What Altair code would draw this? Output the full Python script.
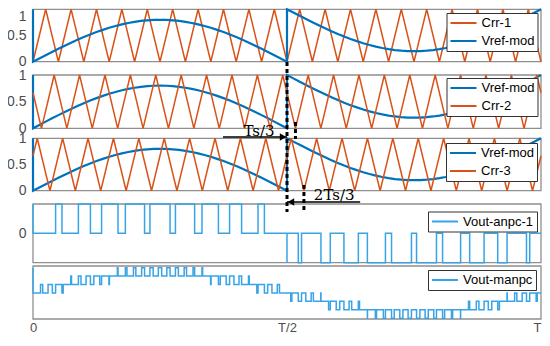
import numpy as np
import pandas as pd
import altair as alt

# ---------------- data (time in units of T) ----------------
CRR_UNIT = 120  # carrier vertex times are given in T/120

CRR1_T = [0, 3, 6, 9, 12, 15, 18, 21, 24, 27, 30, 33, 36, 39, 42, 45, 48, 51, 54, 57, 60,
          63, 66, 69, 72, 75, 78, 81, 84, 87, 90, 93, 96, 99, 102, 105, 108, 111, 114, 117, 120]
CRR1_V = [0, 1, 0, 1, 0, 1, 0, 1, 0, 1, 0, 1, 0, 1, 0, 1, 0, 1, 0, 1, 0,
          1, 0, 1, 0, 1, 0, 1, 0, 1, 0, 1, 0, 1, 0, 1, 0, 1, 0, 1, 0]

CRR2_T = [0, 2, 5, 8, 11, 14, 17, 20, 23, 26, 29, 32, 35, 38, 41, 44, 47, 50, 53, 56, 59,
          62, 65, 68, 71, 74, 77, 80, 83, 86, 89, 92, 95, 98, 101, 104, 107, 110, 113, 116, 119, 120]
CRR2_V = [0.667, 0, 1, 0, 1, 0, 1, 0, 1, 0, 1, 0, 1, 0, 1, 0, 1, 0, 1, 0, 1,
          0, 1, 0, 1, 0, 1, 0, 1, 0, 1, 0, 1, 0, 1, 0, 1, 0, 1, 0, 1, 0.667]

CRR3_T = [0, 1, 4, 7, 10, 13, 16, 19, 22, 25, 28, 31, 34, 37, 40, 43, 46, 49, 52, 55, 58,
          61, 64, 67, 70, 73, 76, 79, 82, 85, 88, 91, 94, 97, 100, 103, 106, 109, 112, 115, 118, 120]
CRR3_V = [0.667, 1, 0, 1, 0, 1, 0, 1, 0, 1, 0, 1, 0, 1, 0, 1, 0, 1, 0, 1, 0,
          1, 0, 1, 0, 1, 0, 1, 0, 1, 0, 1, 0, 1, 0, 1, 0, 1, 0, 1, 0, 0.667]

# reference (Vref-mod) sampled every T/80
VREF_H1 = [0.000, 0.063, 0.125, 0.187, 0.247, 0.306, 0.363, 0.418, 0.470, 0.520, 0.566,
           0.608, 0.647, 0.682, 0.713, 0.739, 0.761, 0.778, 0.790, 0.798, 0.800,
           0.798, 0.790, 0.778, 0.761, 0.739, 0.713, 0.682, 0.647, 0.608, 0.566,
           0.520, 0.470, 0.418, 0.363, 0.306, 0.247, 0.187, 0.125, 0.063, 0.000]
VREF_H2 = [1.000, 0.937, 0.875, 0.813, 0.753, 0.694, 0.637, 0.582, 0.530, 0.480, 0.434,
           0.392, 0.353, 0.318, 0.287, 0.261, 0.239, 0.222, 0.210, 0.202, 0.200,
           0.202, 0.210, 0.222, 0.239, 0.261, 0.287, 0.318, 0.353, 0.392, 0.434,
           0.480, 0.530, 0.582, 0.637, 0.694, 0.753, 0.813, 0.875, 0.937, 1.000]
VREF_T1 = np.linspace(0.0, 0.5, len(VREF_H1))
VREF_T2 = np.linspace(0.5, 1.0, len(VREF_H2))

X_TICKS = [0, 0.5, 1]
X_LABELS = ["0", "T/2", "T"]

ORANGE = "#D95319"
BLUE = "#0072BD"
LIGHT = "#38A4E8"
BOX = "#8f8f8f"
LABEL = "#4d4d4d"

# ---------------- PWM outputs: compare the reference with each carrier ----------------
FINE = np.linspace(0.0, 1.0, 48001)
first = FINE < 0.5
vref_fine = np.where(first, np.interp(FINE, VREF_T1, VREF_H1), np.interp(FINE, VREF_T2, VREF_H2))


def pwm(ct, cv):
    c = np.interp(FINE, np.asarray(ct, dtype=float) / CRR_UNIT, cv)
    return (vref_fine > c).astype(int) - (~first).astype(int)


out1 = pwm(CRR1_T, CRR1_V)
out2 = pwm(CRR2_T, CRR2_V)
out3 = pwm(CRR3_T, CRR3_V)


def steps(t, v):
    pts = [(float(t[0]), int(v[0]))]
    for i in np.nonzero(np.diff(v))[0] + 1:
        te = float((t[i - 1] + t[i]) / 2)
        pts.append((te, int(v[i - 1])))
        pts.append((te, int(v[i])))
    pts.append((float(t[-1]), int(v[-1])))
    return pts


a1 = steps(FINE[first], out1[first])
a2 = steps(FINE[~first], out1[~first])
anpc_pts = [(0.0, 1)] + a1 + [(0.5, a1[-1][1]), (0.5, -1), (0.5, a2[0][1])] + a2
manpc_pts = [(0.0, 3)] + steps(FINE, out1 + out2 + out3)


def frame(pts, name):
    df = pd.DataFrame(pts, columns=["t", "v"])
    df["i"] = range(len(df))
    df["series"] = name
    return df


vref_df = frame([(0.0, 1.0)] + list(zip(VREF_T1, VREF_H1)) + list(zip(VREF_T2, VREF_H2)), "Vref-mod")
crr_dfs = [frame(list(zip(np.asarray(T, dtype=float) / CRR_UNIT, V)), n)
           for T, V, n in [(CRR1_T, CRR1_V, "Crr-1"), (CRR2_T, CRR2_V, "Crr-2"), (CRR3_T, CRR3_V, "Crr-3")]]
anpc_df = frame(anpc_pts, "Vout-anpc-1")
manpc_df = frame(manpc_pts, "Vout-manpc")

# ---------------- encodings ----------------
XSCALE = alt.Scale(domain=[0, 1], nice=False, zero=False)
XAXIS = alt.Axis(values=X_TICKS,
                 labelExpr="datum.value == 0 ? '%s' : (datum.value == 1 ? '%s' : '%s')" % (X_LABELS[0], X_LABELS[2], X_LABELS[1]),
                 labelAlign=alt.ExprRef(expr="datum.value == 1 ? 'right' : 'center'"),
                 title=None, domain=False, ticks=False, grid=False, labelPadding=2,
                 labelFontSize=13, labelFont="Liberation Sans", labelColor=LABEL, labelFlush=False)


def X(f="t"):
    return alt.X(f"{f}:Q", scale=XSCALE, axis=XAXIS)


def yaxis(vals, top_flush=False):
    kw = {}
    if top_flush:
        kw["labelBaseline"] = alt.ExprRef(expr="datum.value == 1 ? 'top' : 'middle'")
    return alt.Axis(values=vals, format="~g", orient="left", title=None, domain=False, ticks=False,
                    grid=False, labelPadding=7, labelFontSize=14, labelFont="Liberation Sans",
                    labelColor=LABEL, **kw)


def legend(lx, ly):
    return alt.Legend(orient="none", legendX=lx, legendY=ly, title=None, symbolType="stroke",
                      symbolSize=676, symbolStrokeWidth=2, clipHeight=14, rowPadding=4, padding=3,
                      labelFont="Liberation Sans", labelFontSize=13, labelColor="black",
                      strokeColor="#333333", fillColor="white", labelOffset=4, symbolOffset=0)


def panel(lines, ydom, yrng, yax, cdom, crng, lx, ly):
    ysc = alt.Scale(domain=ydom, range=yrng, nice=False, zero=False)
    box_df = pd.DataFrame({"t0": [0.0], "t1": [1.0], "v0": [ydom[0]], "v1": [ydom[1]]})
    box = alt.Chart(box_df).mark_rect(fillOpacity=0, stroke=BOX, strokeWidth=1.3).encode(
        x=X("t0"), x2="t1", y=alt.Y("v0:Q", scale=ysc, axis=yax), y2="v1")
    layers = [box]
    for df, w in lines:
        layers.append(alt.Chart(df).mark_line(strokeWidth=w).encode(
            x=X("t"),
            y=alt.Y("v:Q", scale=ysc, axis=yax),
            color=alt.Color("series:N", scale=alt.Scale(domain=cdom, range=crng), legend=legend(lx, ly)),
            order="i:Q"))
    return alt.layer(*layers)


p1 = panel([(crr_dfs[0], 1.5), (vref_df, 2.2)], [0, 1], [53.7, 1.3], yaxis([0, 0.5, 1], True),
           ["Crr-1", "Vref-mod"], [ORANGE, BLUE], 413.5, 5)
p2 = panel([(vref_df, 2.2), (crr_dfs[1], 1.5)], [0, 1], [120.3, 67], yaxis([0, 0.5, 1]),
           ["Vref-mod", "Crr-2"], [BLUE, ORANGE], 413.5, 70)
p3 = panel([(vref_df, 2.2), (crr_dfs[2], 1.5)], [0, 1], [182.7, 130.3], yaxis([0, 0.5, 1]),
           ["Vref-mod", "Crr-3"], [BLUE, ORANGE], 413, 135)
p4 = panel([(anpc_df, 1.5)], [-1, 1], [254.7, 196], yaxis([0]),
           ["Vout-anpc-1"], [LIGHT], 395, 203.5)
p5 = panel([(manpc_df, 1.5)], [-3.1, 3.2], [311, 258], None,
           ["Vout-manpc"], [LIGHT], 395, 262)

# ---------------- annotations (Ts/3, 2Ts/3) ----------------
TC = 1 / 20
rules_df = pd.DataFrame({"t": [0.5, 0.5 + TC / 3, 0.5 + 2 * TC / 3],
                         "y0": [54, 114, 177], "y1": [204, 131, 204]})
dashed = alt.Chart(rules_df).mark_rule(color="black", strokeWidth=3, strokeDash=[4, 3]).encode(
    x=X("t"), y=alt.Y("y0:Q", scale=None, axis=None), y2="y1")

arrows_df = pd.DataFrame({"t0": [0.374, 0.5], "t1": [0.5, 0.644], "y": [129, 194]})
arrow_lines = alt.Chart(arrows_df).mark_rule(color="black", strokeWidth=1.3).encode(
    x=X("t0"), x2="t1", y=alt.Y("y:Q", scale=None, axis=None))

head_r = alt.Chart(pd.DataFrame({"t": [0.5], "y": [129]})).mark_point(
    shape="triangle-right", filled=True, color="black", opacity=1, size=55, xOffset=-4).encode(
    x=X("t"), y=alt.Y("y:Q", scale=None, axis=None))
head_l = alt.Chart(pd.DataFrame({"t": [0.5], "y": [194]})).mark_point(
    shape="triangle-left", filled=True, color="black", opacity=1, size=55, xOffset=4).encode(
    x=X("t"), y=alt.Y("y:Q", scale=None, axis=None))

texts_df = pd.DataFrame({"t": [0.445, 0.593], "y": [128, 192], "label": ["Ts/3", "2Ts/3"]})
texts = alt.Chart(texts_df).mark_text(font="DejaVu Serif", fontSize=15, color="black",
                                      align="center", baseline="alphabetic").encode(
    x=X("t"), y=alt.Y("y:Q", scale=None, axis=None), text="label:N")

chart = alt.layer(p1, p2, p3, p4, p5, dashed, arrow_lines, head_r, head_l, texts).resolve_scale(
    y="independent", color="independent"
).properties(
    width=508, height=311,
    padding={"left": 25, "top": 0, "right": 1, "bottom": 14},
    autosize=alt.AutoSizeParams(type="none"),
    background="white",
).configure_view(strokeWidth=0)

chart.save("out.html", embed_options={"renderer": "svg", "actions": False})
